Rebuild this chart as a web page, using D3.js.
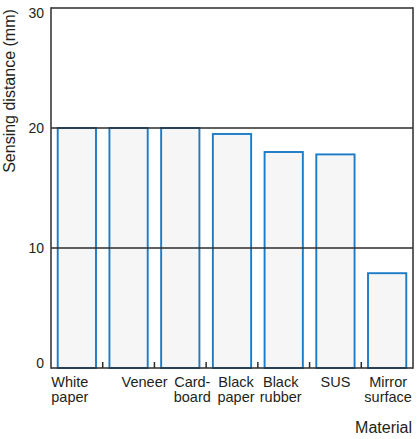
<!DOCTYPE html>
<html>
<head>
<meta charset="utf-8">
<script src="https://cdn.jsdelivr.net/npm/d3@7"></script>
<style>
  html, body { margin: 0; padding: 0; background: #fff; }
  svg { display: block; }
  text { font-family: "Liberation Sans", Arial, sans-serif; fill: #231f20; }
</style>
</head>
<body>
<svg id="chart" width="417" height="439"></svg>
<script>
// ---- data ----
const categories = ["White paper", "Veneer", "Card-board", "Black paper", "Black rubber", "SUS", "Mirror surface"];
const labelLines = [["White", "paper"], ["Veneer"], ["Card-", "board"], ["Black", "paper"], ["Black", "rubber"], ["SUS"], ["Mirror", "surface"]];
const values = [20, 20, 20, 19.5, 18, 17.8, 7.9];
const yTicks = [0, 10, 20, 30];
const yTitle = "Sensing distance (mm)";
const xTitle = "Material";

// ---- layout ----
const svg = d3.select("#chart");
const mLeft = 51, mRight = 413, mTop = 8, mBottom = 368;

const x = d3.scaleBand().domain(categories).range([mLeft, mRight]).paddingInner(0.26).paddingOuter(0.13);
const xb = d3.scaleBand().domain(categories).range([mLeft, mRight]).padding(0);
const y = d3.scaleLinear().domain([0, 30]).range([mBottom, mTop]);

// bars
svg.append("g").selectAll("rect").data(values).join("rect")
  .attr("x", (d, i) => x(categories[i]))
  .attr("width", x.bandwidth())
  .attr("y", d => y(d))
  .attr("height", d => y(0) - y(d))
  .attr("fill", "#f6f6f6")
  .attr("stroke", "#1b7bc6")
  .attr("stroke-width", 1.9);

// gridlines (drawn over bars)
svg.append("g").selectAll("line").data(yTicks.filter(t => t > 0)).join("line")
  .attr("x1", mLeft).attr("x2", mRight)
  .attr("y1", d => y(d)).attr("y2", d => y(d))
  .attr("stroke", "#2b2b2b").attr("stroke-width", 1.5);

// frame: left, right, bottom
svg.append("line").attr("x1", mLeft).attr("x2", mLeft).attr("y1", y(30) - 0.75).attr("y2", y(0) + 0.75)
  .attr("stroke", "#2b2b2b").attr("stroke-width", 1.5);
svg.append("line").attr("x1", mRight).attr("x2", mRight).attr("y1", y(30) - 0.75).attr("y2", y(0) + 0.75)
  .attr("stroke", "#2b2b2b").attr("stroke-width", 1.5);
svg.append("line").attr("x1", mLeft).attr("x2", mRight).attr("y1", y(0)).attr("y2", y(0))
  .attr("stroke", "#2b2b2b").attr("stroke-width", 1.5);

// x tick marks at category boundaries
const bounds = categories.slice(1).map(c => xb(c));
svg.append("g").selectAll("line").data(bounds).join("line")
  .attr("x1", d => d).attr("x2", d => d)
  .attr("y1", y(0)).attr("y2", y(0) - 6)
  .attr("stroke", "#2b2b2b").attr("stroke-width", 1.5);

// y tick labels
svg.append("g").selectAll("text").data(yTicks).join("text")
  .attr("x", mLeft - 7)
  .attr("y", d => d === 30 ? y(d) + 10 : d === 0 ? y(d) : y(d) + 5)
  .attr("text-anchor", "end")
  .attr("font-size", 14)
  .text(d => d);

// y title
svg.append("text")
  .attr("transform", `translate(15,${(10 + 172) / 2}) rotate(-90)`)
  .attr("text-anchor", "middle")
  .attr("font-size", 16)
  .text(yTitle);

// x category labels (shift relative to band centre, layout only)
const labelShift = [-7, 16, 12, 4, -3, 0, 1];
const lbl = svg.append("g").selectAll("text").data(labelLines).join("text")
  .attr("text-anchor", "middle")
  .attr("font-size", 14.5)
  .attr("transform", (d, i) => `translate(${xb(categories[i]) + xb.bandwidth() / 2 + labelShift[i]},386.5)`);
lbl.selectAll("tspan").data(d => d).join("tspan")
  .attr("x", 0)
  .attr("dy", (d, j) => j === 0 ? 0 : 15)
  .text(d => d);

// x title
svg.append("text")
  .attr("x", mRight - 1).attr("y", 433)
  .attr("text-anchor", "end")
  .attr("font-size", 16)
  .text(xTitle);
</script>
</body>
</html>
